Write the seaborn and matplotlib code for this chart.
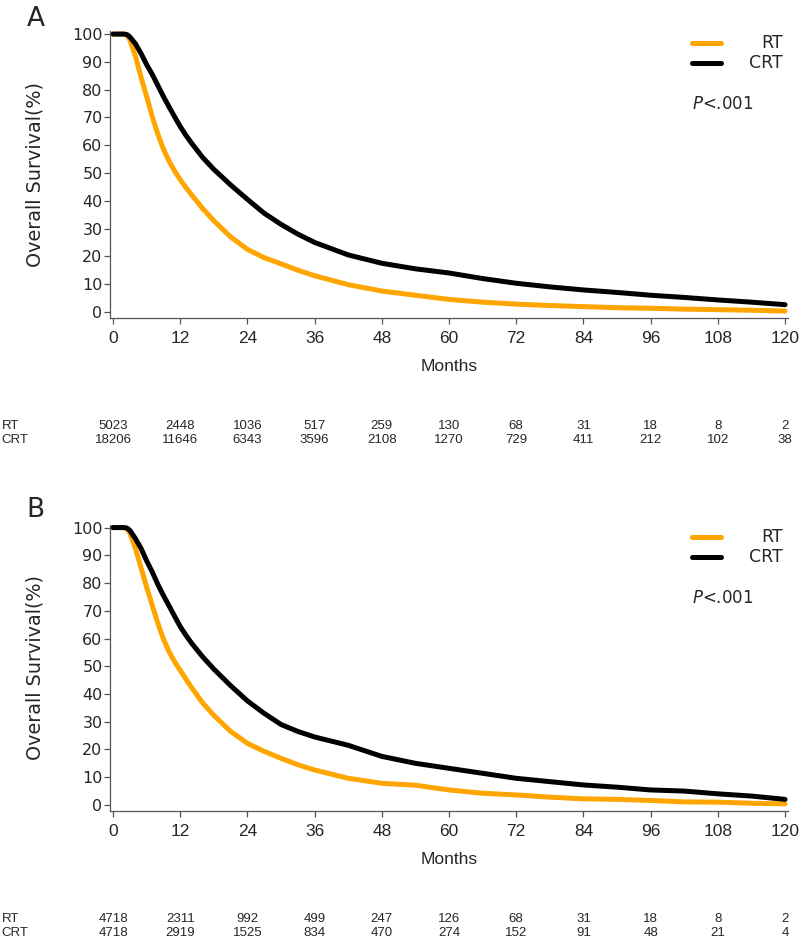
import pandas as pd
import matplotlib
matplotlib.use("Agg")
import matplotlib.pyplot as plt
import matplotlib.transforms as mtransforms
import seaborn as sns

# Data
months = [0, 2, 2.5, 3, 4, 5, 6, 7, 8, 9, 10, 11, 12, 13, 14, 16, 18, 21, 24, 27, 30, 33, 36,
          42, 48, 54, 60, 66, 72, 78, 84, 90, 96, 102, 108, 114, 120]

a_rt = [100, 100, 99.5, 98, 92, 84.5, 77.5, 70.3, 64, 58.6, 54.3, 50.7, 47.6, 44.8, 42.2, 37.2, 32.8,
        27, 22.5, 19.5, 17.3, 15, 13, 9.8, 7.5, 6, 4.5, 3.5, 2.8, 2.3, 1.9, 1.5, 1.3, 1, 0.8, 0.6, 0.3]
a_crt = [100, 100, 99.8, 99, 96.5, 93, 89, 85.5, 81.5, 77.5, 73.8, 70.2, 66.7, 63.6, 60.8, 55.6, 51.3,
         45.7, 40.5, 35.5, 31.5, 28, 25, 20.5, 17.5, 15.5, 14, 12, 10.3, 9, 7.9, 7, 6, 5.2, 4.3, 3.5, 2.6]

b_rt = [100, 100, 99.5, 98, 92.5, 85.5, 78.5, 72, 65.5, 59.8, 55.3, 51.6, 48.5, 45.4, 42.4, 36.8, 32.3,
        26.5, 22.2, 19.3, 16.8, 14.5, 12.6, 9.6, 7.8, 7.1, 5.4, 4.2, 3.6, 2.8, 2.2, 2, 1.6, 1.1, 1, 0.6, 0.4]
b_crt = [100, 100, 99.8, 99, 96, 92.5, 88, 84, 79.5, 75.5, 71.8, 68, 64.3, 61.2, 58.4, 53.4, 49,
         43, 37.5, 33, 29, 26.5, 24.5, 21.5, 17.5, 15, 13.2, 11.4, 9.6, 8.4, 7.2, 6.4, 5.4, 5, 4, 3.2, 2]

risk_months = [0, 12, 24, 36, 48, 60, 72, 84, 96, 108, 120]
a_risk_rt = [5023, 2448, 1036, 517, 259, 130, 68, 31, 18, 8, 2]
a_risk_crt = [18206, 11646, 6343, 3596, 2108, 1270, 729, 411, 212, 102, 38]
b_risk_rt = [4718, 2311, 992, 499, 247, 126, 68, 31, 18, 8, 2]
b_risk_crt = [4718, 2919, 1525, 834, 470, 274, 152, 91, 48, 21, 4]

groups = ["RT", "CRT"]
palette = {"RT": "#FFA500", "CRT": "black"}

sns.set_style("ticks")
plt.rcParams["font.family"] = ["DejaVu Sans"]
narrow = ["Liberation Sans Narrow", "Liberation Sans", "DejaVu Sans"]

fig = plt.figure(figsize=(8, 9.4), dpi=100)

panels = [
    ("A", [0.1378, 0.6617, 0.847, 0.305], 6, a_rt, a_crt, a_risk_rt, a_risk_crt),
    ("B", [0.1378, 0.1372, 0.847, 0.3045], 497, b_rt, b_crt, b_risk_rt, b_risk_crt),
]

for letter, rect, letter_top, rt, crt, risk_rt, risk_crt in panels:
    ax = fig.add_axes(rect)
    df = pd.DataFrame({
        "Months": months * 2,
        "Survival": rt + crt,
        "Group": ["RT"] * len(months) + ["CRT"] * len(months),
    })
    sns.lineplot(data=df, x="Months", y="Survival", hue="Group", hue_order=groups,
                 palette=palette, linewidth=3.6, estimator=None, sort=False,
                 legend=False, ax=ax)

    ax.set_xlim(-0.5, 120.5)
    ax.set_ylim(-2.2, 101)
    ax.set_xticks(risk_months)
    ax.set_yticks(range(0, 101, 10))
    sns.despine(ax=ax)
    for s in ["left", "bottom"]:
        ax.spines[s].set_color("#555555")
        ax.spines[s].set_linewidth(0.9)
    ax.tick_params(axis="both", color="#555555", length=4.5, width=0.9)
    ax.tick_params(axis="y", pad=1, labelsize=11.5)
    ax.tick_params(axis="x", pad=5)
    for lab in ax.get_xticklabels():
        lab.set_family(narrow)
        lab.set_fontsize(12.5)
    ax.set_xlabel("Months", family=narrow, fontsize=12.5, labelpad=9)
    ax.set_ylabel("Overall Survival(%)", fontsize=13.8, labelpad=20)

    # legend and p-value
    for yy, g in [(0.958, "RT"), (0.888, "CRT")]:
        ax.plot([0.859, 0.901], [yy, yy], color=palette[g], lw=3.6,
                transform=ax.transAxes, clip_on=False)
        ax.text(0.993, yy, g, transform=ax.transAxes, ha="right", va="center",
                fontsize=12.5)
    ax.text(0.859, 0.745, "$\\mathit{P}$<.001", transform=ax.transAxes,
            ha="left", va="center", fontsize=12)

    # panel letter
    fig.text(0.033, 1 - letter_top / 940, letter, fontsize=19, ha="left", va="top")

    # number at risk table
    pos = ax.get_position()
    trans = mtransforms.blended_transform_factory(ax.transData, fig.transFigure)
    row_y = [pos.y0 - 0.115, pos.y0 - 0.130]
    for yy, name, vals in [(row_y[0], "RT", risk_rt), (row_y[1], "CRT", risk_crt)]:
        fig.text(0.002, yy, name, family=narrow, fontsize=9.5, ha="left", va="center")
        for m, v in zip(risk_months, vals):
            ax.text(m, yy, str(v), transform=trans, family=narrow, fontsize=9.5,
                    ha="center", va="center")

fig.savefig("out.png", dpi=100)
